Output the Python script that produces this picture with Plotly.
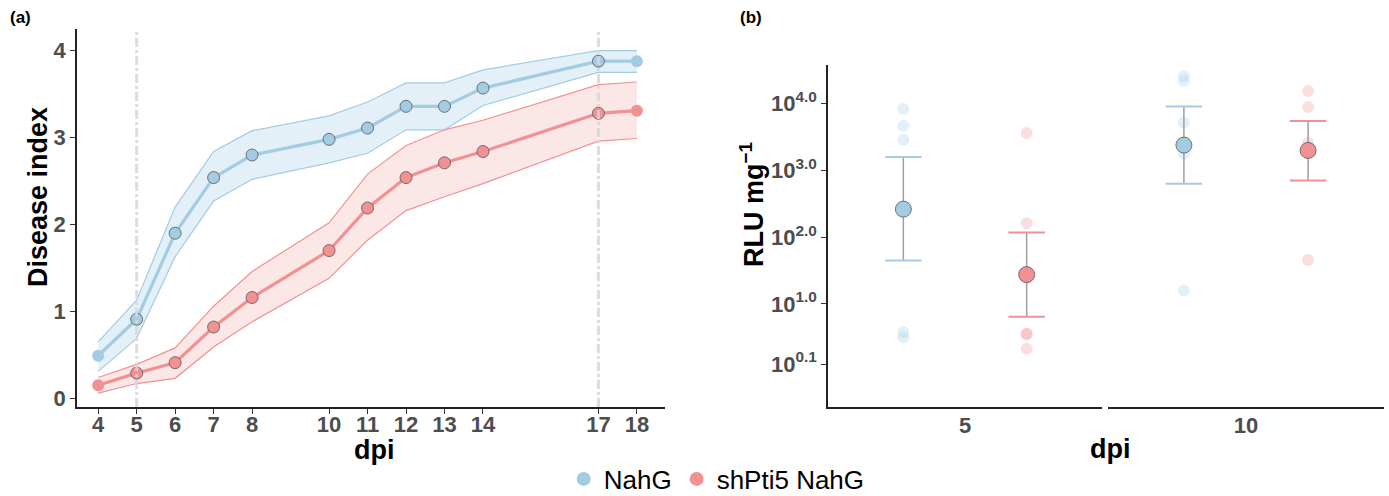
import plotly.graph_objects as go

# ---------------- Panel (a) data ----------------
dpi = [4, 5, 6, 7, 8, 10, 11, 12, 13, 14, 17, 18]
nahg_mean = [0.49, 0.91, 1.90, 2.54, 2.80, 2.98, 3.11, 3.36, 3.36, 3.57, 3.88, 3.88]
nahg_upper = [0.65, 1.13, 2.20, 2.84, 3.08, 3.25, 3.41, 3.63, 3.63, 3.78, 4.00, 4.00]
nahg_lower = [0.31, 0.69, 1.63, 2.27, 2.52, 2.71, 2.82, 3.09, 3.09, 3.37, 3.75, 3.75]
sh_mean = [0.15, 0.29, 0.41, 0.82, 1.16, 1.70, 2.19, 2.54, 2.71, 2.84, 3.28, 3.31]
sh_upper = [0.24, 0.39, 0.58, 1.06, 1.46, 2.02, 2.58, 2.91, 3.09, 3.20, 3.61, 3.64]
sh_lower = [0.06, 0.17, 0.23, 0.59, 0.88, 1.38, 1.82, 2.16, 2.32, 2.47, 2.96, 2.99]
marked_dpi = [5, 17]
yticks_a = [0, 1, 2, 3, 4]

# ---------------- Panel (b) data (log10 RLU mg-1) ----------------
facet_dpi = ["5", "10"]
nahg_raw_log = {"5": [3.92, 3.67, 3.46, 0.58, 0.50], "10": [4.41, 4.34, 3.72, 3.25, 1.20]}
sh_raw_log = {"5": [3.56, 2.21, 0.55, 0.55, 0.33], "10": [4.19, 3.95, 3.41, 3.30, 1.66]}
nahg_mean_log = {"5": 2.42, "10": 3.38}
nahg_lo_log = {"5": 1.65, "10": 2.80}
nahg_hi_log = {"5": 3.20, "10": 3.96}
sh_mean_log = {"5": 1.44, "10": 3.30}
sh_lo_log = {"5": 0.81, "10": 2.85}
sh_hi_log = {"5": 2.07, "10": 3.74}
ytick_log_b = [0.1, 1.0, 2.0, 3.0, 4.0]

series_names = ["NahG", "shPti5 NahG"]
BLUE = "#A3CCE3"
RED = "#F29193"
BLUE_FILL = "rgba(163,204,227,0.30)"
RED_FILL = "rgba(242,145,147,0.22)"
TICK_FONT = dict(family="Liberation Sans, Arial", size=22, color="#4D4D4D", weight="bold")

W, H = 1389, 496
def px(x):
    return x / W
def py(y):
    return 1 - y / H

fig = go.Figure()

# ---- panel (a): ribbons, lines, markers ----
for mean, up, lo, col, fill in [(nahg_mean, nahg_upper, nahg_lower, BLUE, BLUE_FILL),
                                (sh_mean, sh_upper, sh_lower, RED, RED_FILL)]:
    fig.add_trace(go.Scatter(x=dpi, y=lo, mode="lines", line=dict(color=col, width=1.2),
                             showlegend=False, hoverinfo="skip", xaxis="x", yaxis="y"))
    fig.add_trace(go.Scatter(x=dpi, y=up, mode="lines", line=dict(color=col, width=1.2),
                             fill="tonexty", fillcolor=fill,
                             showlegend=False, hoverinfo="skip", xaxis="x", yaxis="y"))
for mean, col in [(nahg_mean, BLUE), (sh_mean, RED)]:
    outline = [0 if (d == dpi[0] or d == dpi[-1]) else 0.8 for d in dpi]
    fig.add_trace(go.Scatter(x=dpi, y=mean, mode="lines+markers",
                             line=dict(color=col, width=3.2),
                             marker=dict(size=12, color=col, line=dict(color="#555555", width=outline)),
                             showlegend=False, xaxis="x", yaxis="y"))

shapes = []
for d in marked_dpi:
    shapes.append(dict(type="line", xref="x", yref="y domain", x0=d, x1=d, y0=0, y1=1,
                       line=dict(color="rgba(215,215,215,0.85)", width=3, dash="dashdot"), layer="above"))

# ---- panel (b): facets ----
dodge = 0.45
for i, f in enumerate(facet_dpi):
    xa = "x2" if i == 0 else "x3"
    for off, raw, m, lo, hi, col in [(-dodge, nahg_raw_log, nahg_mean_log, nahg_lo_log, nahg_hi_log, BLUE),
                                     (dodge, sh_raw_log, sh_mean_log, sh_lo_log, sh_hi_log, RED)]:
        vals = raw[f]
        fig.add_trace(go.Scatter(x=[off] * len(vals), y=[10 ** v for v in vals], mode="markers",
                                 marker=dict(size=12, color=col, opacity=0.3, line=dict(width=0)),
                                 showlegend=False, xaxis=xa, yaxis="y2"))
        fig.add_trace(go.Scatter(x=[off, off], y=[10 ** lo[f], 10 ** hi[f]], mode="lines",
                                 line=dict(color="#A0A0A0", width=1.5),
                                 showlegend=False, hoverinfo="skip", xaxis=xa, yaxis="y2"))
        fig.add_trace(go.Scatter(x=[off, off], y=[10 ** lo[f], 10 ** hi[f]], mode="markers",
                                 marker=dict(symbol="line-ew", size=26, line=dict(color=col, width=2)),
                                 showlegend=False, hoverinfo="skip", xaxis=xa, yaxis="y2"))
        fig.add_trace(go.Scatter(x=[off], y=[10 ** m[f]], mode="markers",
                                 marker=dict(size=16, color=col, line=dict(color="#555555", width=0.8)),
                                 showlegend=False, xaxis=xa, yaxis="y2"))

# legend entries
for name, col in zip(series_names, [BLUE, RED]):
    fig.add_trace(go.Scatter(x=[None], y=[None], mode="markers", name=name,
                             marker=dict(size=14, color=col), xaxis="x", yaxis="y"))

axis_line = dict(showline=True, linecolor="#222222", linewidth=1.6, showgrid=False, zeroline=False)

fig.update_layout(
    width=W, height=H,
    margin=dict(l=0, r=0, t=0, b=0, autoexpand=False),
    plot_bgcolor="white", paper_bgcolor="white",
    font=dict(family="Liberation Sans, Arial", color="black"),
    xaxis=dict(domain=[px(77), px(665)], range=[3.45, 18.73], tickmode="array", tickvals=dpi,
               ticks="outside", ticklen=5, tickwidth=1.2, tickcolor="#333333",
               tickfont=TICK_FONT, anchor="y", ticklabelstandoff=-8, **axis_line),
    yaxis=dict(domain=[py(407), py(29)], range=[-0.10, 4.25], tickmode="array", tickvals=yticks_a,
               ticks="outside", ticklen=5, tickwidth=1.2, tickcolor="#333333",
               tickfont=TICK_FONT, anchor="x", **axis_line),
    xaxis2=dict(domain=[px(828), px(1102)], range=[-1, 1], tickmode="array", tickvals=[0],
                ticktext=[facet_dpi[0]], ticks="", tickfont=TICK_FONT, anchor="y2",
                ticklabelstandoff=-2, **axis_line),
    xaxis3=dict(domain=[px(1108), px(1384)], range=[-1, 1], tickmode="array", tickvals=[0],
                ticktext=[facet_dpi[1]], ticks="", tickfont=TICK_FONT, anchor="y2",
                ticklabelstandoff=-2, **axis_line),
    yaxis2=dict(domain=[py(407), py(65)], type="log", range=[-0.544, 4.58], tickmode="array",
                tickvals=[10 ** v for v in ytick_log_b],
                ticktext=["10<sup>%.1f</sup>" % v for v in ytick_log_b],
                ticks="outside", ticklen=5, tickwidth=1.2, tickcolor="#333333",
                tickfont=TICK_FONT, anchor="x2", **axis_line),
    shapes=shapes,
    showlegend=True,
    legend=dict(orientation="h", x=0.516, xanchor="center", y=py(479), yanchor="middle",
                traceorder="normal",
                font=dict(size=26, color="black", family="Liberation Sans, Arial"),
                itemsizing="trace", bgcolor="rgba(0,0,0,0)"),
)

ann = [
    dict(text="(a)", x=px(8), y=py(18), xanchor="left", yanchor="middle",
         font=dict(size=17, weight="bold")),
    dict(text="(b)", x=px(738), y=py(18), xanchor="left", yanchor="middle",
         font=dict(size=17, weight="bold")),
    dict(text="Disease index", x=px(38), y=py(197), textangle=-90, xanchor="center", yanchor="middle",
         font=dict(size=27, weight="bold")),
    dict(text="dpi", x=px(374), y=py(450), xanchor="center", yanchor="middle",
         font=dict(size=27, weight="bold")),
    dict(text="RLU mg<sup>\u22121</sup>", x=px(752), y=py(205), textangle=-90, xanchor="center", yanchor="middle",
         font=dict(size=27, weight="bold")),
    dict(text="dpi", x=px(1110), y=py(449), xanchor="center", yanchor="middle",
         font=dict(size=27, weight="bold")),
]
for a in ann:
    a.update(xref="paper", yref="paper", showarrow=False)
fig.update_layout(annotations=ann)

fig.write_html("out.html", config={"displayModeBar": False},
               post_script="document.body.style.margin='0px';document.body.style.overflow='hidden';")
